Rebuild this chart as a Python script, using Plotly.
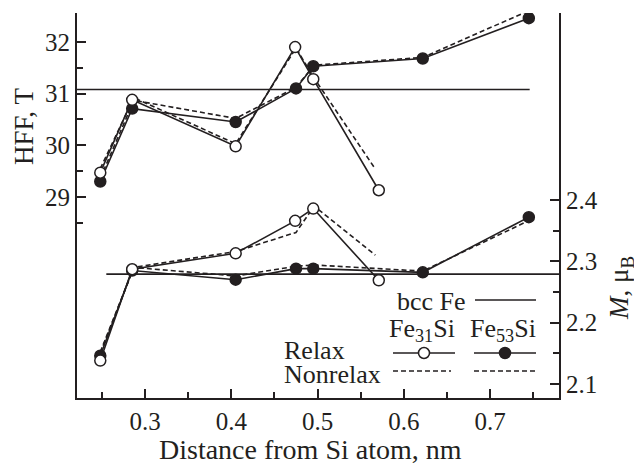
import plotly.graph_objects as go

# ---- data ----
x_relax31 = [0.248, 0.285, 0.405, 0.474, 0.495, 0.571]
x_nonrelax31 = [0.248, 0.287, 0.405, 0.475, 0.496, 0.567]
hff_relax31 = [29.47, 30.88, 29.98, 31.90, 31.28, 29.13]
hff_nonrelax31 = [29.55, 30.92, 30.03, 31.88, 31.30, 29.54]
m_relax31 = [2.138, 2.287, 2.313, 2.366, 2.386, 2.269]
m_nonrelax31 = [2.150, 2.290, 2.316, 2.347, 2.390, 2.310]

x_relax53 = [0.248, 0.285, 0.405, 0.475, 0.495, 0.622, 0.745]
x_nonrelax53 = [0.248, 0.287, 0.405, 0.475, 0.496, 0.622, 0.743]
hff_relax53 = [29.30, 30.71, 30.45, 31.10, 31.53, 31.68, 32.46]
hff_nonrelax53 = [29.36, 30.87, 30.52, 31.12, 31.55, 31.70, 32.59]
m_relax53 = [2.146, 2.285, 2.270, 2.288, 2.288, 2.282, 2.372]
m_nonrelax53 = [2.152, 2.290, 2.276, 2.292, 2.294, 2.284, 2.365]

bcc_hff = 31.08
bcc_hff_x = [0.221, 0.746]
bcc_m = 2.279
bcc_m_x = [0.255, 0.780]

x_ticks = [0.3, 0.4, 0.5, 0.6, 0.7]
x_minor = [0.25, 0.35, 0.45, 0.55, 0.65, 0.75]
hff_ticks = [29, 30, 31, 32]
hff_minor = [28.5, 29.5, 30.5, 31.5]
m_ticks = [2.1, 2.2, 2.3, 2.4]
m_minor = [2.15, 2.25, 2.35]

INK = "#231f20"
FONT = "Liberation Serif"
FS = 25

fig = go.Figure()

def line(x, y, axis, dash="solid", marker=None):
    kw = dict(x=x, y=y, yaxis=axis, showlegend=False, hoverinfo="skip",
              line=dict(color=INK, width=1.6, dash=dash))
    if marker is None:
        kw["mode"] = "lines"
    else:
        kw["mode"] = "lines+markers"
        kw["marker"] = marker
    fig.add_trace(go.Scatter(**kw))

open_m = dict(symbol="circle", size=11, color="white", line=dict(color=INK, width=1.5))
fill_m = dict(symbol="circle", size=11, color=INK, line=dict(color=INK, width=1.5))
dash = "5px,3px"

# reference bcc Fe lines
line(bcc_hff_x, [bcc_hff, bcc_hff], "y")
line(bcc_m_x, [bcc_m, bcc_m], "y2")

# nonrelax (dashed)
line(x_nonrelax31, hff_nonrelax31, "y", dash)
line(x_nonrelax53, hff_nonrelax53, "y", dash)
line(x_nonrelax31, m_nonrelax31, "y2", dash)
line(x_nonrelax53, m_nonrelax53, "y2", dash)

# relax (solid + markers)
line(x_relax53, hff_relax53, "y", "solid", fill_m)
line(x_relax31, hff_relax31, "y", "solid", open_m)
line(x_relax53, m_relax53, "y2", "solid", fill_m)
line(x_relax31, m_relax31, "y2", "solid", open_m)

OFF = 8  # page body margin
L, R, T, B = 77, 559, 13, 398
W, H = 642 - OFF, 464 - OFF
def px(x):
    return (x - L) / (R - L)
def py(y):
    return (B - y) / (B - T)

tickfont = dict(family=FONT, size=FS, color=INK)
common = dict(showgrid=False, zeroline=False, showline=True, linecolor=INK, linewidth=2,
              ticks="inside", ticklen=9, tickwidth=1.5, tickcolor=INK, tickfont=tickfont,
              automargin=False)

fig.update_layout(
    template="none",
    width=W, height=H,
    margin=dict(l=L - OFF, r=W - (R - OFF), t=T - OFF, b=H - (B - OFF), autoexpand=False, pad=0),
    paper_bgcolor="white", plot_bgcolor="white",
    showlegend=False,
    xaxis=dict(range=[0.221, 0.780], tickvals=x_ticks, ticktext=[f"{v:.1f}" for v in x_ticks],
               minor=dict(tickvals=x_minor, ticks="inside", ticklen=6, tickcolor=INK, tickwidth=1.5),
               **common),
    yaxis=dict(range=[25.11, 32.56], tickvals=hff_ticks, ticktext=[str(v) for v in hff_ticks],
               minor=dict(tickvals=hff_minor, ticks="inside", ticklen=6, tickcolor=INK, tickwidth=1.5),
               **common),
    yaxis2=dict(range=[2.077, 2.705], overlaying="y", side="right",
                tickvals=m_ticks, ticktext=[f"{v:.1f}" for v in m_ticks],
                minor=dict(tickvals=m_minor, ticks="inside", ticklen=6, tickcolor=INK, tickwidth=1.5),
                **common),
)

def fnt(s):
    return dict(family=FONT, size=s, color=INK)

anns = [
    dict(text="Distance from Si atom, nm", x=px(310), y=py(449), xanchor="center", yanchor="middle", font=fnt(28)),
    dict(text="HFF, T", x=px(24), y=py(127), xanchor="center", yanchor="middle", textangle=-90, font=fnt(27)),
    dict(text="<i>M</i>, μ<sub>B</sub>", x=px(621), y=py(288), xanchor="center", yanchor="middle", textangle=-90, font=fnt(27)),
    dict(text="bcc Fe", x=px(468), y=py(301), xanchor="right", yanchor="middle", font=fnt(26)),
    dict(text="Fe<sub>31</sub>Si", x=px(422), y=py(330), xanchor="center", yanchor="middle", font=fnt(26)),
    dict(text="Fe<sub>53</sub>Si", x=px(503), y=py(330), xanchor="center", yanchor="middle", font=fnt(26)),
    dict(text="Relax", x=px(282), y=py(350), xanchor="left", yanchor="middle", font=fnt(26)),
    dict(text="Nonrelax", x=px(282), y=py(374), xanchor="left", yanchor="middle", font=fnt(26)),
]
for a in anns:
    a.update(xref="paper", yref="paper", showarrow=False)
    fig.add_annotation(**a)

def hseg(x0, x1, y, dashed=False):
    fig.add_shape(type="line", xref="paper", yref="paper", x0=px(x0), x1=px(x1), y0=py(y), y1=py(y),
                  line=dict(color=INK, width=1.6, dash=dash if dashed else "solid"))

hseg(475, 536, 300)
hseg(393, 455, 353)
hseg(474, 536, 353)
hseg(393, 451, 371, True)
hseg(474, 536, 371, True)

def circ(xc, yc, filled):
    fig.add_shape(type="circle", xref="paper", yref="paper", xsizemode="pixel", ysizemode="pixel",
                  xanchor=px(xc), yanchor=py(yc), x0=-5.5, x1=5.5, y0=-5.5, y1=5.5,
                  fillcolor=INK if filled else "white", line=dict(color=INK, width=1.5))

circ(424, 353, False)
circ(505, 353, True)

fig.write_html("out.html")
